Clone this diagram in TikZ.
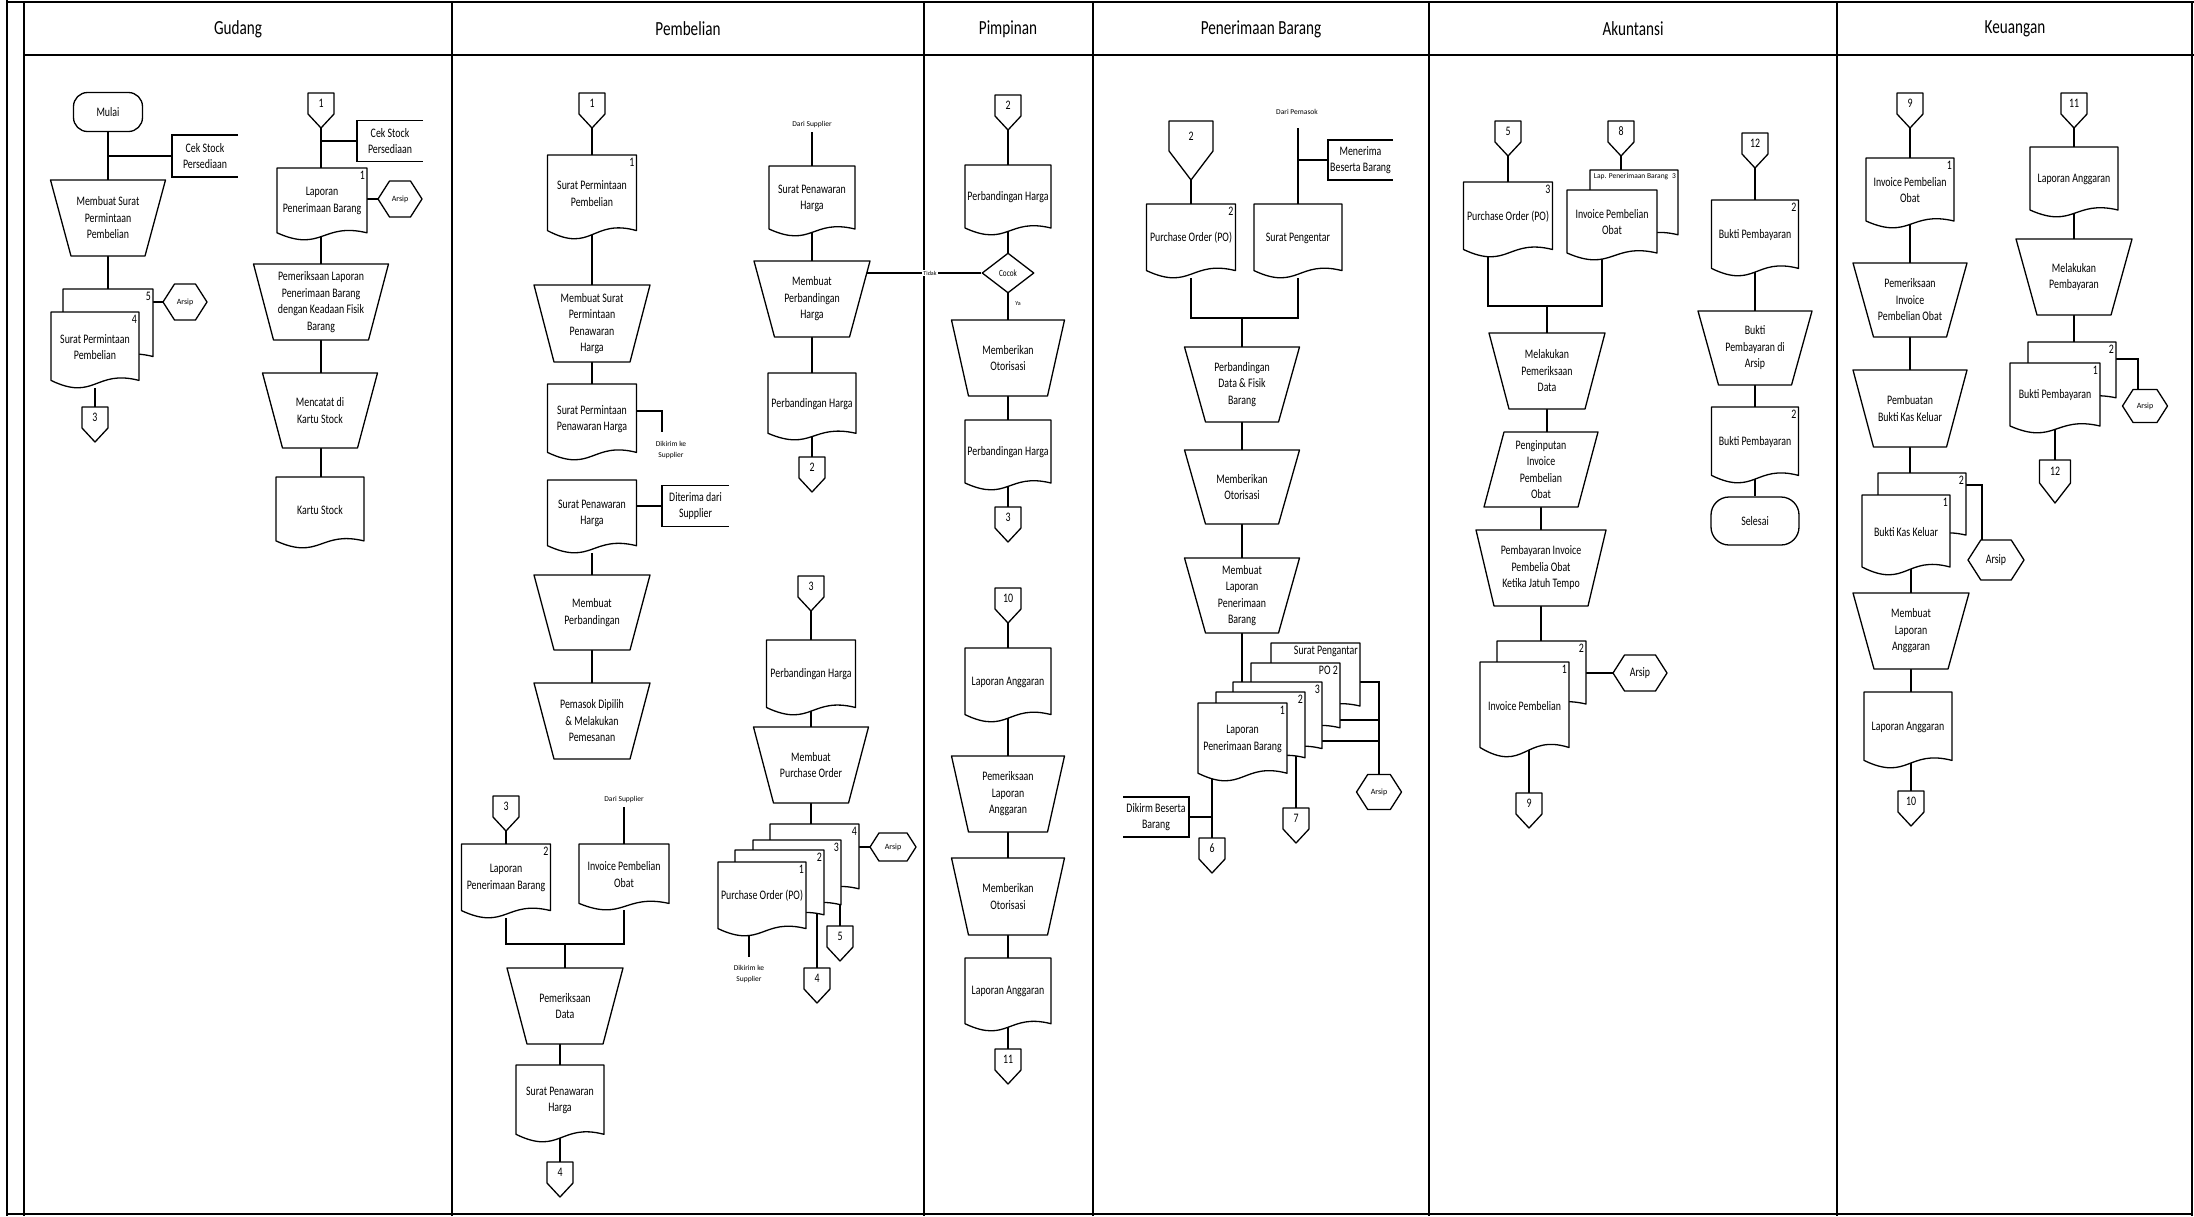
\documentclass[tikz,border=0pt]{standalone}
\usepackage{fontspec}
\setmainfont{Carlito}[FakeStretch=0.76]
\newfontfamily\plainf{Carlito}
\usetikzlibrary{calc,shapes.geometric}
\pgfdeclarelayer{bg}
\pgfsetlayers{bg,main}
\tikzset{
  box/.style={rectangle, draw=none, inner sep=0pt, outer sep=0pt},
  shp/.style={draw, fill=white, line width=1.3pt, line join=round},
  ln/.style={draw, line width=1.3pt},
  txt/.style={inner sep=0pt, align=center, font=\fontsize{13}{16.5}\selectfont},
  tn/.style={inner sep=0pt, align=center, font=\plainf\fontsize{7.5}{11}\selectfont},
  hdr/.style={inner sep=0pt, font=\fontsize{20}{22}\selectfont},
}
% document: [num]{name}{cx}{top}{w}{h}{text}
\newcommand\Doc[7][]{%
  \node[box, minimum width=#5, minimum height=#6, anchor=north] (#2) at (#3,-#4) {};
  \draw[shp] (#2.north west) -- (#2.north east) -- ++(0,{-0.9*#6})
     .. controls +({-0.5*#5},{0.15*#6}) and +({0.5*#5},{-0.28*#6}) .. ([yshift={-0.9*#6}]#2.north west) -- cycle;
  \node[txt] (#2-l) at ([yshift={0.04*#6}]#2.center) {#7};
  \if\relax\detokenize{#1}\relax\else
    \node[txt, anchor=north east] (#2-n) at ([xshift=-2,yshift=-3]#2.north east) {#1};
  \fi}
% manual operation: {name}{cx}{top}{wtop}{wbot}{h}{text}
\newcommand\Trap[7]{%
  \node[box, minimum width=#4, minimum height=#6, anchor=north] (#1) at (#2,-#3) {};
  \draw[shp] (#1.north west) -- (#1.north east) -- ([xshift={-(#4-#5)/2}]#1.south east)
     -- ([xshift={(#4-#5)/2}]#1.south west) -- cycle;
  \node[txt] (#1-l) at (#1.center) {#7};}
% off-page connector: {name}{cx}{top}{w}{rect h}{tip h}{label}
\newcommand\ConnX[7]{%
  \node[box, minimum width=#4, minimum height={#5+#6}, anchor=north] (#1) at (#2,-#3) {};
  \draw[shp] (#1.north west) -- (#1.north east) -- ++(0,-#5) -- (#1.south) -- ([yshift=#6]#1.south west) -- cycle;
  \node[txt] (#1-l) at ([yshift={-#5/2}]#1.north) {#7};}
\newcommand\Conn[4]{\ConnX{#1}{#2}{#3}{26}{21}{14}{#4}}
% storage hexagon: {name}{cx}{cy}{w}{h}{text}
\newcommand\Hex[6]{%
  \node[box, minimum width=#4, minimum height=#5] (#1) at (#2,-#3) {};
  \draw[shp] (#1.west) -- ([xshift={0.32*#5}]#1.north west) -- ([xshift={-0.32*#5}]#1.north east) -- (#1.east)
     -- ([xshift={-0.32*#5}]#1.south east) -- ([xshift={0.32*#5}]#1.south west) -- cycle;
  \node[txt] (#1-l) at (#1.center) {#6};}
% annotation opening right: {name}{left x}{cy}{w}{h}{text}
\newcommand\Annot[6]{%
  \node[box, minimum width=#4, minimum height=#5, anchor=west] (#1) at (#2,-#3) {};
  \draw[ln] (#1.north east) -- (#1.north west) -- (#1.south west) -- (#1.south east);
  \node[txt] (#1-l) at (#1.center) {#6};}
% annotation opening left: {name}{right x}{cy}{w}{h}{text}
\newcommand\AnnotR[6]{%
  \node[box, minimum width=#4, minimum height=#5, anchor=east] (#1) at (#2,-#3) {};
  \draw[ln] (#1.north west) -- (#1.north east) -- (#1.south east) -- (#1.south west);
  \node[txt] (#1-l) at (#1.center) {#6};}
% parallelogram: {name}{cx}{top}{w}{skew}{h}{text}
\newcommand\Para[7]{%
  \node[box, minimum width=#4, minimum height=#6, anchor=north] (#1) at (#2,-#3) {};
  \draw[shp] ([xshift=#5]#1.north west) -- (#1.north east) -- ([xshift=-#5]#1.south east) -- (#1.south west) -- cycle;
  \node[txt] (#1-l) at (#1.center) {#7};}
\newcommand\arsS{\plainf\fontsize{8}{9}\selectfont Arsip}

\begin{document}
\begin{tikzpicture}[x=1pt,y=1pt]
\useasboundingbox (0,0) rectangle (2194,-1216);
\begin{pgfonlayer}{bg}
  \fill[white] (0,0) rectangle (2194,-1216);
\end{pgfonlayer}

% ---------- headers ----------
\node[hdr] (hG) at (238,-29) {Gudang};
\node[hdr] (hP) at (688,-29) {Pembelian};
\node[hdr] (hM) at (1008,-29) {Pimpinan};
\node[hdr] (hN) at (1261,-29) {Penerimaan Barang};
\node[hdr] (hA) at (1633,-29) {Akuntansi};
\node[hdr] (hK) at (2015,-29) {Keuangan};

% ---------- Gudang ----------
\node[shp, txt, rounded corners=14pt, minimum width=69, minimum height=39] (mulai) at (108,-112) {Mulai};
\Annot{annG1}{172}{156}{66}{42}{Cek Stock\\Persediaan}
\Trap{tA}{108}{180}{115}{74}{76}{Membuat Surat\\Permintaan\\Pembelian}
\Doc[5]{sppB}{108}{289}{90}{75}{}
\Doc[4]{sppF}{95}{312}{88}{76}{Surat Permintaan\\Pembelian}
\Hex{hexG1}{185}{302}{44}{36}{\arsS}
\Conn{cG3}{95}{407}{3}

\Conn{cG1}{321}{93}{1}
\Annot{annG2}{357}{141}{66}{41}{Cek Stock\\Persediaan}
\Doc[1]{lpbG}{322}{168}{90}{72}{Laporan\\Penerimaan Barang}
\Hex{hexG2}{400}{199}{44}{36}{\arsS}
\Trap{tB}{321}{264}{135}{95}{76}{Pemeriksaan Laporan\\Penerimaan Barang\\dengan Keadaan Fisik\\Barang}
\Trap{tC}{320}{373}{115}{75}{75}{Mencatat di\\Kartu Stock}
\Doc{ksG}{320}{477}{88}{71}{Kartu Stock}

% ---------- Pembelian (left) ----------
\Conn{cP1}{592}{93}{1}
\Doc[1]{sppP}{592}{155}{89}{84}{Surat Permintaan\\Pembelian}
\Trap{tP1}{592}{285}{116}{76}{77}{Membuat Surat\\Permintaan\\Penawaran\\Harga}
\Doc{spphP}{592}{384}{89}{76}{Surat Permintaan\\Penawaran Harga}
\coordinate (dks1) at (662,-411);
\coordinate (dks1b) at (662,-432);
\node[tn] (dksPl) at (671,-450) {Dikirim ke\\Supplier};
\Doc{sphP}{592}{480}{89}{73}{Surat Penawaran\\Harga}
\Annot{annP1}{662}{506}{67}{41}{Diterima dari\\Supplier}
\Trap{tP2}{592}{575}{116}{76}{75}{Membuat\\Perbandingan}
\Trap{tP3}{592}{683}{116}{76}{76}{Pemasok Dipilih\\\& Melakukan\\Pemesanan}

\Conn{cP3}{506}{796}{3}
\Doc[2]{lpbP}{506}{844}{89}{74}{Laporan\\Penerimaan Barang}
\node[tn] (dsPl) at (624,-799) {Dari Supplier};
\coordinate (dsPc) at (624,-807);
\Doc{ipoP}{624}{844}{90}{66}{Invoice Pembelian\\Obat}
\coordinate (jP) at (565,-944);
\Trap{tP4}{565}{968}{116}{76}{76}{Pemeriksaan\\Data}
\Doc{sphP2}{560}{1065}{88}{77}{Surat Penawaran\\Harga}
\Conn{cP4}{560}{1162}{4}

% ---------- Pembelian (right) ----------
\node[tn] (dsRl) at (812,-124) {Dari Supplier};
\coordinate (dsRc) at (812,-132);
\Doc{sphR}{812}{166}{86}{70}{Surat Penawaran\\Harga}
\Trap{tR1}{812}{261}{116}{75}{76}{Membuat\\Perbandingan\\Harga}
\Doc{phR}{812}{373}{88}{67}{Perbandingan Harga}
\Conn{cR2}{812}{457}{2}

\Conn{cR3}{811}{576}{3}
\Doc{phR2}{811}{640}{89}{75}{Perbandingan Harga}
\Trap{tR2}{811}{727}{115}{75}{76}{Membuat\\Purchase Order}
\Doc[4]{po4}{814.5}{824}{89}{72}{}
\Doc[3]{po3}{797}{840}{88}{72}{}
\Doc[2]{po2}{779.5}{850}{89}{72}{}
\Doc[1]{po1}{762}{862}{88}{74}{Purchase Order (PO)}
\Hex{hexPO}{893}{847}{46}{28}{\arsS}
\coordinate (dksR) at (749,-957);
\node[tn] (dksRl) at (749,-974) {Dikirim ke\\Supplier};
\Conn{cR5}{840}{926}{5}
\Conn{cR4}{817}{968}{4}

% ---------- Pimpinan ----------
\Conn{cM2}{1008}{95}{2}
\Doc{phM}{1008}{165}{86}{70}{Perbandingan Harga}
\node[shp, diamond, aspect=1.3, inner sep=0pt, minimum width=52, minimum height=40,
      font=\fontsize{9.5}{11}\selectfont] (cocok) at (1008,-273) {Cocok};
\node[inner sep=1pt, fill=white, font=\plainf\fontsize{6}{7}\selectfont] (tidak) at (930,-273) {Tidak};
\node[inner sep=0pt, font=\plainf\fontsize{6}{7}\selectfont] (ya) at (1018,-304) {Ya};
\Trap{tM1}{1008}{320}{113}{79}{76}{Memberikan\\Otorisasi}
\Doc{phM2}{1008}{420}{86}{70}{Perbandingan Harga}
\Conn{cM3}{1008}{507}{3}
\Conn{cM10}{1008}{588}{10}
\Doc{laM}{1008}{648}{86}{74}{Laporan Anggaran}
\Trap{tM2}{1008}{756}{113}{79}{76}{Pemeriksaan\\Laporan\\Anggaran}
\Trap{tM3}{1008}{858}{113}{79}{77}{Memberikan\\Otorisasi}
\Doc{laM2}{1008}{958}{86}{73}{Laporan Anggaran}
\Conn{cM11}{1008}{1049}{11}

% ---------- Penerimaan Barang ----------
\ConnX{cN2}{1191}{121}{44}{30}{29}{2}
\node[tn] (dpNl) at (1297,-112) {Dari Pemasok};
\coordinate (dpNc) at (1298,-128);
\Annot{annN1}{1328}{160}{65}{40}{Menerima\\Beserta Barang}
\Doc[2]{poN}{1191}{204}{89}{74}{Purchase Order (PO)}
\Doc{spN}{1298}{204}{88}{74}{Surat Pengentar}
\coordinate (jN) at (1242,-318);
\Trap{tN1}{1242}{347}{115}{73}{75}{Perbandingan\\Data \& Fisik\\Barang}
\Trap{tN2}{1242}{450}{115}{73}{74}{Memberikan\\Otorisasi}
\Trap{tN3}{1242}{558}{115}{73}{75}{Membuat\\Laporan\\Penerimaan\\Barang}
\Doc[Surat Pengantar]{pN5}{1315.5}{643}{89}{70}{}
\Doc[PO 2]{pN4}{1295.5}{663}{89}{72}{}
\Doc[3]{pN3}{1277.5}{682}{89}{74}{}
\Doc[2]{pN2}{1260.5}{692}{89}{73}{}
\Doc[1]{pN1}{1242.5}{703}{89}{78}{Laporan\\Penerimaan Barang}
\Hex{hexN}{1379}{792}{45}{35}{\arsS}
\coordinate (aN) at (1379,-682);
\coordinate (aN2) at (1379,-720);
\coordinate (aN3) at (1379,-741);
\Conn{cN7}{1296}{808}{7}
\Conn{cN6}{1212}{838}{6}
\AnnotR{annN2}{1189}{817}{66}{40}{Dikirm Beserta\\Barang}

% ---------- Akuntansi ----------
\Conn{cA5}{1508}{121}{5}
\Conn{cA8}{1621}{121}{8}
\Conn{cA12}{1755}{133}{12}
\Doc[3]{poA}{1508}{182}{89}{75}{Purchase Order (PO)}
\Doc[{\plainf\fontsize{7.5}{9}\selectfont Lap. Penerimaan Barang\enspace 3}]{lpA}{1634}{170}{88}{72}{}
\Doc{ipA}{1612}{190}{90}{70}{Invoice Pembelian\\Obat}
\coordinate (jA) at (1547,-306);
\coordinate (dropL) at (1488,-306);
\coordinate (dropR) at (1602,-306);
\Trap{tA1}{1547}{333}{116}{76}{76}{Melakukan\\Pemeriksaan\\Data}
\Para{parA}{1541}{432}{114}{20}{75}{Penginputan\\Invoice\\Pembelian\\Obat}
\Trap{tA2}{1541}{530}{130}{94}{76}{Pembayaran Invoice\\Pembelia Obat\\Ketika Jatuh Tempo}
\Doc[2]{ipA2}{1541.5}{641}{89}{70}{}
\Doc[1]{ipA1}{1524.5}{662}{89}{95}{Invoice Pembelian}
\Hex{hexA}{1640}{673}{54}{36}{Arsip}
\Conn{cA9}{1529}{793}{9}

\Doc[2]{bpA}{1755}{200}{87}{76}{Bukti Pembayaran}
\Trap{tA3}{1755}{311}{114}{73}{74}{Bukti\\Pembayaran di\\Arsip}
\Doc[2]{bpA2}{1755}{407}{87}{76}{Bukti Pembayaran}
\node[shp, txt, rounded corners=18pt, minimum width=88, minimum height=48] (selesai) at (1755,-521) {Selesai};

% ---------- Keuangan ----------
\Conn{cK9}{1910}{93}{9}
\Doc[1]{ipK}{1910}{158}{88}{70}{Invoice Pembelian\\Obat}
\Trap{tK1}{1910}{263}{114}{73}{74}{Pemeriksaan\\Invoice\\Pembelian Obat}
\Trap{tK2}{1910}{370}{114}{73}{77}{Pembuatan\\Bukti Kas Keluar}
\Doc[2]{bkK2}{1922}{473}{88}{69}{}
\Doc[1]{bkK1}{1906}{495}{88}{80}{Bukti Kas Keluar}
\Hex{hexK1}{1996}{560}{56}{40}{Arsip}
\coordinate (kk) at (1982,-485);
\Trap{tK3}{1911}{593}{116}{74}{76}{Membuat\\Laporan\\Anggaran}
\Doc{laK}{1908}{692}{88}{76}{Laporan Anggaran}
\Conn{cK10}{1911}{791}{10}

\Conn{cK11}{2074}{93}{11}
\Doc{laK2}{2074}{147}{88}{70}{Laporan Anggaran}
\Trap{tK4}{2074}{239}{116}{74}{76}{Melakukan\\Pembayaran}
\Doc[2]{bpK2}{2072}{342}{88}{62}{}
\Doc[1]{bpK1}{2055}{363}{90}{70}{Bukti Pembayaran}
\Hex{hexK2}{2145}{406}{45}{33}{\arsS}
\coordinate (kk2) at (2138,-359);
\ConnX{cK12}{2055}{460}{31}{23}{20}{12}

% ---------- connectors and frame (behind shapes) ----------
\begin{pgfonlayer}{bg}
  % frame
  \draw[ln] (7,0) -- (7,-1216);
  \draw[ln] (24,-2) -- (24,-1216);
  \draw[ln] (7,-2) -- (2194,-2);
  \draw[ln] (24,-55) -- (2194,-55);
  \foreach \xx in {452,924,1093,1429,1837} \draw[ln] (\xx,-2) -- (\xx,-1216);
  \draw[ln] (2192,-2) -- (2192,-1216);
  \draw[ln] (7,-1214) -- (2192,-1214);
  % Gudang
  \draw[ln] (mulai) -- (tA);
  \draw[ln] (annG1.west) -- (annG1.west -| mulai);
  \draw[ln] (tA) -- (tA |- sppB);
  \draw[ln] (sppF) -- (cG3);
  \draw[ln] (hexG1.west) -- (hexG1.west -| sppB.east);
  \draw[ln] (cG1) -- (cG1 |- ksG);
  \draw[ln] (annG2.west) -- (annG2.west -| cG1);
  \draw[ln] (hexG2.west) -- (hexG2.west -| lpbG.east);
  % Pembelian left
  \draw[ln] (cP1) -- (spphP);
  \draw[ln] (dks1 -| spphP.east) -- (dks1) -- (dks1b);
  \draw[ln] (sphP) -- (tP3);
  \draw[ln] (annP1.west) -- (annP1.west -| sphP.east);
  \draw[ln] (cP3) -- (lpbP);
  \draw[ln] (dsPc) -- (ipoP);
  \draw[ln] (lpbP) -- (lpbP |- jP) -- (ipoP |- jP) -- (ipoP);
  \draw[ln] (jP) -- (tP4);
  \draw[ln] (sphP2 |- tP4) -- (cP4);
  % Pembelian right
  \draw[ln] (dsRc) -- (dsRc |- cR2);
  \draw[ln] (cR3) -- (cR3 |- po4);
  \draw[ln] (hexPO.west) -- (hexPO.west -| po4.east);
  \draw[ln] (cR5) -- (cR5 |- po3);
  \draw[ln] (cR4) -- (cR4 |- po2);
  \draw[ln] (dksR) -- (dksR |- po1);
  % Pimpinan
  \draw[ln] (cM2) -- (cM3);
  \draw[ln] (cocok.west) -- (cocok.west -| tR1);
  \draw[ln] (cM10) -- (cM11);
  % Penerimaan
  \draw[ln] (cN2) -- (cN2 |- poN);
  \draw[ln] (dpNc) -- (dpNc |- spN);
  \draw[ln] (annN1.west) -- (annN1.west -| dpNc);
  \draw[ln] (poN) -- (poN |- jN) -- (spN |- jN) -- (spN);
  \draw[ln] (jN) -- (jN |- pN1);
  \draw[ln] (aN -| pN5.east) -- (aN) -- (hexN);
  \draw[ln] (aN2 -| pN4.east) -- (aN2);
  \draw[ln] (aN3 -| pN3.east) -- (aN3);
  \draw[ln] (cN7) -- (cN7 |- pN2);
  \draw[ln] (cN6) -- (cN6 |- pN1);
  \draw[ln] (annN2.east) -- (annN2.east -| cN6);
  % Akuntansi
  \draw[ln] (cA5) -- (cA5 |- poA);
  \draw[ln] (cA8) -- (cA8 |- lpA);
  \draw[ln] (dropL |- poA) -- (dropL) -- (dropR) -- (dropR |- ipA);
  \draw[ln] (jA) -- (jA |- tA1);
  \draw[ln] (tA1) -- (tA1 |- parA);
  \draw[ln] (tA2 |- parA) -- (tA2 |- ipA2);
  \draw[ln] (hexA.west) -- (hexA.west -| ipA2.east);
  \draw[ln] (cA9) -- (cA9 |- ipA1);
  \draw[ln] (cA12) -- (selesai);
  % Keuangan
  \draw[ln] (cK9) -- (cK9 |- bkK2);
  \draw[ln] (kk -| bkK2.east) -- (kk) -- (kk |- hexK1);
  \draw[ln] (tK3 |- bkK1) -- (cK10);
  \draw[ln] (cK11) -- (cK11 |- bpK2);
  \draw[ln] (kk2 -| bpK2.east) -- (kk2) -- (kk2 |- hexK2);
  \draw[ln] (cK12) -- (cK12 |- bpK1);
\end{pgfonlayer}
\end{tikzpicture}
\end{document}
